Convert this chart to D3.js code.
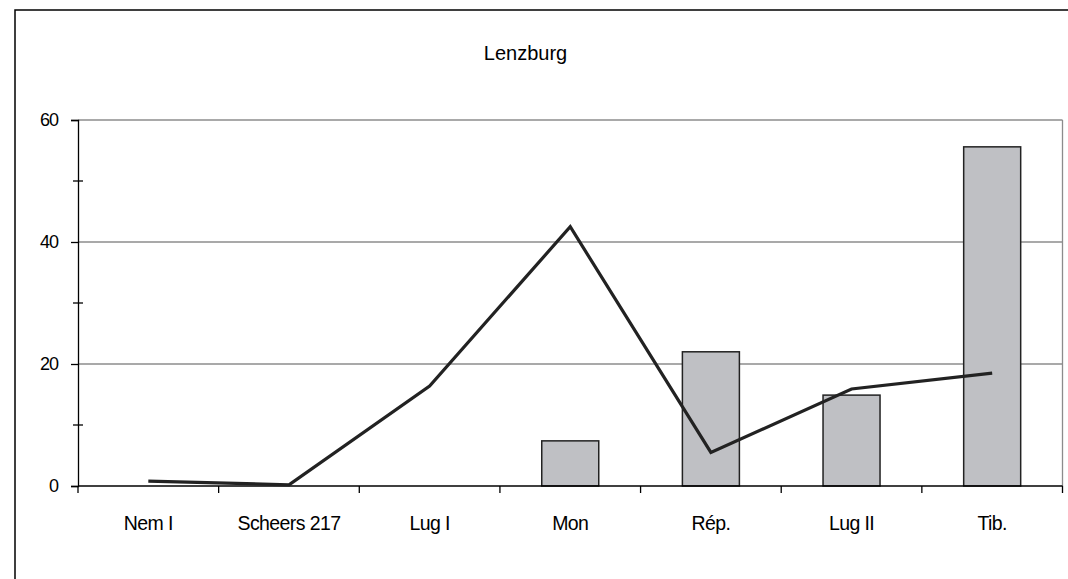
<!DOCTYPE html>
<html><head><meta charset="utf-8">
<script src="https://cdn.jsdelivr.net/npm/d3@7"></script>
<style>body{margin:0;background:#fff}svg{display:block;font-family:"Liberation Sans",Arial,sans-serif}</style>
</head><body><svg id="c" width="1068" height="579"></svg>
<script>
const title = "Lenzburg";
const categories = ["Nem I","Scheers 217","Lug I","Mon","Rép.","Lug II","Tib."];
const barValues = [null, null, null, 7.4, 22.0, 14.9, 55.6];
const lineValues = [0.8, 0.2, 16.4, 42.5, 5.5, 15.9, 18.5];
const yMajorTicks = [0, 20, 40, 60];
const yMinorTicks = [10, 30, 50];

const svg = d3.select("#c");
const L = 78, R = 1062.5, T = 120, B = 486;
svg.append("rect").attr("x",15).attr("y",10).attr("width",1070).attr("height",600)
  .attr("fill","#fff").attr("stroke","#000").attr("stroke-width",1.5);

const x = d3.scaleBand().domain(categories).range([L,R]).paddingInner(0).paddingOuter(0);
const y = d3.scaleLinear().domain([0,60]).range([B,T]);

// gridlines
svg.append("g").selectAll("line").data(yMajorTicks.filter(d=>d>0)).join("line")
  .attr("x1",L).attr("x2",R).attr("y1",d=>y(d)).attr("y2",d=>y(d))
  .attr("stroke","#8c8c8c").attr("stroke-width",1.3);
// right border
svg.append("line").attr("x1",R).attr("x2",R).attr("y1",T).attr("y2",B)
  .attr("stroke","#8c8c8c").attr("stroke-width",1.3);

// bars
const bw = 57;
svg.append("g").selectAll("rect").data(categories.map((c,i)=>({c,v:barValues[i]})).filter(d=>d.v!=null)).join("rect")
  .attr("x",d=>x(d.c)+x.bandwidth()/2-bw/2).attr("width",bw)
  .attr("y",d=>y(d.v)).attr("height",d=>y(0)-y(d.v))
  .attr("fill","#bfc0c4").attr("stroke","#222").attr("stroke-width",1.5);

// y axis
const yAxis = d3.axisLeft(y).tickValues(yMajorTicks).tickSize(7).tickPadding(13).tickFormat(d3.format("d"));
const ya = svg.append("g").attr("transform",`translate(${L},0)`).call(yAxis);
ya.select(".domain").attr("stroke","#000").attr("stroke-width",1.3);
ya.selectAll(".tick line").attr("stroke","#000").attr("stroke-width",1.3);
ya.selectAll(".tick text").attr("font-size",18).attr("fill","#000").attr("font-family","Liberation Sans, Arial, sans-serif").attr("letter-spacing","-1");
// minor ticks crossing
svg.append("g").selectAll("line").data(yMinorTicks).join("line")
  .attr("x1",L-5).attr("x2",L+5).attr("y1",d=>y(d)).attr("y2",d=>y(d))
  .attr("stroke","#000").attr("stroke-width",1.3);

// x axis
const bounds = categories.map(c=>x(c)).concat([R]);
svg.append("line").attr("x1",L).attr("x2",R).attr("y1",B).attr("y2",B).attr("stroke","#000").attr("stroke-width",1.5);
svg.append("g").selectAll("line").data(bounds).join("line")
  .attr("x1",d=>d).attr("x2",d=>d).attr("y1",B).attr("y2",B+7).attr("stroke","#000").attr("stroke-width",1.3);
const xAxis = d3.axisBottom(x).tickSize(0).tickPadding(30);
const xa = svg.append("g").attr("transform",`translate(0,${B})`).call(xAxis);
xa.select(".domain").remove();
xa.selectAll(".tick text").attr("font-size",19.5).attr("fill","#000").attr("font-family","Liberation Sans, Arial, sans-serif").attr("letter-spacing","-0.6");

// line
const line = d3.line().x((d,i)=>x(categories[i])+x.bandwidth()/2).y(d=>y(d));
svg.append("path").datum(lineValues).attr("d",line).attr("fill","none")
  .attr("stroke","#222").attr("stroke-width",3.2).attr("stroke-linejoin","miter");

// title
svg.append("text").attr("x",525.5).attr("y",60).attr("text-anchor","middle")
  .attr("font-size",20).attr("fill","#000").text(title);
</script></body></html>
